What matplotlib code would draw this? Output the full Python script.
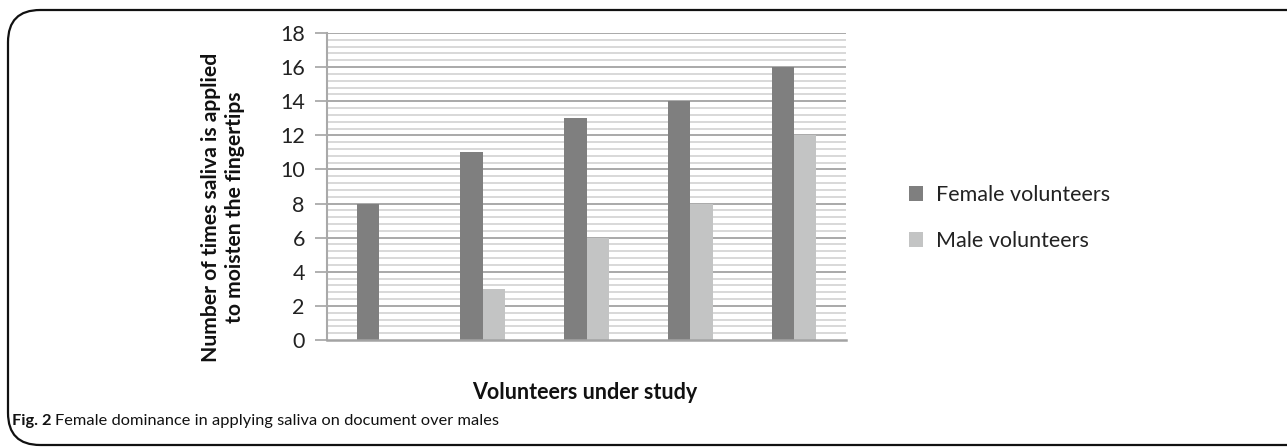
import matplotlib
matplotlib.use("Agg")
import matplotlib.pyplot as plt
import numpy as np
from matplotlib.patches import FancyBboxPatch

# Data
categories = ["1", "2", "3", "4", "5"]
female_values = [8, 11, 13, 14, 16]
male_values = [0, 3, 6, 8, 12]
series_names = ["Female volunteers", "Male volunteers"]
y_ticks = [0, 2, 4, 6, 8, 10, 12, 14, 16, 18]

FONT = ["Lato", "DejaVu Sans"]
plt.rcParams["font.family"] = FONT

W, H = 1287, 448
fig = plt.figure(figsize=(W / 100, H / 100), dpi=100)

# rounded outer frame (runs past the right edge)
frame = FancyBboxPatch((8 / W, 3 / H), (W + 40) / W, (H - 13) / H,
                       boxstyle="round,pad=0,rounding_size=0.025",
                       transform=fig.transFigure, fill=False,
                       edgecolor="#111111", linewidth=1.6, mutation_aspect=W / H)
fig.patches.append(frame)

# plot area in pixels
left, right, top, bottom = 327, 846, 33, 340
ax = fig.add_axes([left / W, 1 - bottom / H, (right - left) / W, (bottom - top) / H])

x = np.arange(len(categories))
bw = 0.215
female_color = "#7f7f7f"
male_color = "#c3c4c4"
ax.bar(x - bw / 2, female_values, width=bw, color=female_color, zorder=3,
       label=series_names[0])
ax.bar(x + bw / 2, male_values, width=bw, color=male_color, zorder=3,
       label=series_names[1])

ax.set_xlim(-0.5, len(categories) - 0.5)
ax.set_ylim(0, 18)

# gridlines: minor every 0.4, major every 2
for v in np.arange(0, 18.01, 0.4):
    if abs(v / 2 - round(v / 2)) > 1e-6:
        ax.axhline(v, color="#d6d6d6", linewidth=1.3, zorder=1)
for v in y_ticks[1:]:
    ax.axhline(v, color="#a3a3a3", linewidth=1.3, zorder=2)

ax.set_yticks(y_ticks)
ax.set_yticklabels([str(t) for t in y_ticks], fontsize=15.5, color="#222222")
ax.set_xticks([])
ax.tick_params(axis="y", direction="out", length=9, width=1.2, color="#a3a3a3", pad=7)

for s in ["top", "right"]:
    ax.spines[s].set_visible(False)
ax.spines["left"].set_color("#a9a9a9")
ax.spines["left"].set_linewidth(1.5)
ax.spines["bottom"].set_color("#a3a3a3")
ax.spines["bottom"].set_linewidth(1.8)
ax.spines["bottom"].set_zorder(4)

# y axis title (two lines)
fig.text(211 / W, 1 - 207 / H, "Number of times saliva is applied",
         rotation=90, ha="center", va="center", fontsize=15.2,
         fontweight="bold", color="#111111")
fig.text(235 / W, 1 - 207 / H, "to moisten the fingertips",
         rotation=90, ha="center", va="center", fontsize=15.2,
         fontweight="bold", color="#111111")

# x axis title
fig.text(585 / W, 1 - 392 / H, "Volunteers under study", ha="center", va="center",
         fontsize=15.5, fontweight="bold", color="#111111")

# legend
leg = fig.legend(loc="center left", bbox_to_anchor=(890 / W, 1 - 218 / H),
                 frameon=False, fontsize=15.5, handlelength=0.65, handleheight=0.65,
                 handletextpad=0.6, labelspacing=1.2)
for t in leg.get_texts():
    t.set_color("#222222")

# caption
cap_y = 1 - 421 / H
t1 = fig.text(12 / W, cap_y, "Fig. 2", ha="left", va="center", fontsize=11.8,
              fontweight="bold", color="#111111")
fig.canvas.draw()
bb = t1.get_window_extent()
fig.text((bb.x1 + 4) / W, cap_y, "Female dominance in applying saliva on document over males",
         ha="left", va="center", fontsize=11.8, color="#111111")

fig.savefig("out.png", dpi=100)
